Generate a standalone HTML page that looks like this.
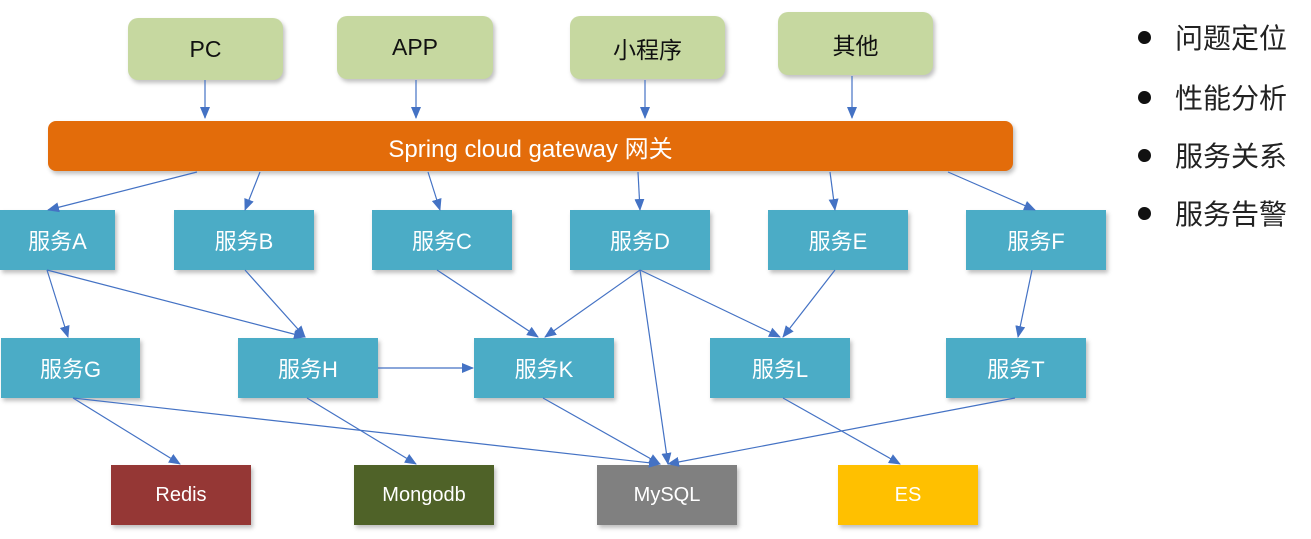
<!DOCTYPE html>
<html><head><meta charset="utf-8"><style>
body{margin:0;width:1311px;height:539px;background:#fff;position:relative;overflow:hidden;font-family:"Liberation Sans","Noto Sans CJK SC",sans-serif}
.b{position:absolute;display:flex;align-items:center;justify-content:center;box-shadow:2px 3px 4px rgba(0,0,0,.25)}
.t{background:#c6d8a0;border-radius:10px;color:#111;font-size:23px}
.s{background:#4bacc6;color:#fff;font-size:22px;height:60px;width:140px}
.d{color:#fff;font-size:20px;height:60px;width:140px}
.bl{position:absolute;left:1138px;font-size:28px;color:#222}
.bl:before{content:"";display:inline-block;width:13px;height:13px;border-radius:50%;background:#111;margin-right:24px;vertical-align:middle;position:relative;top:-3px}
svg{position:absolute;left:0;top:0}
</style></head><body>
<div class="b t" style="left:128px;top:18px;width:155px;height:62px">PC</div>
<div class="b t" style="left:337px;top:16px;width:156px;height:63px">APP</div>
<div class="b t" style="left:570px;top:16px;width:155px;height:63px">小程序</div>
<div class="b t" style="left:778px;top:12px;width:155px;height:63px">其他</div>
<div class="b" style="left:48px;top:121px;width:965px;height:50px;background:#e36c0a;border-radius:8px;color:#fff;font-size:24px">Spring cloud gateway 网关</div>
<div class="b s" style="left:0;top:210px;width:115px">服务A</div>
<div class="b s" style="left:174px;top:210px">服务B</div>
<div class="b s" style="left:372px;top:210px">服务C</div>
<div class="b s" style="left:570px;top:210px">服务D</div>
<div class="b s" style="left:768px;top:210px">服务E</div>
<div class="b s" style="left:966px;top:210px">服务F</div>
<div class="b s" style="left:1px;top:338px;width:139px">服务G</div>
<div class="b s" style="left:238px;top:338px">服务H</div>
<div class="b s" style="left:474px;top:338px">服务K</div>
<div class="b s" style="left:710px;top:338px">服务L</div>
<div class="b s" style="left:946px;top:338px">服务T</div>
<div class="b d" style="left:111px;top:465px;background:#953735">Redis</div>
<div class="b d" style="left:354px;top:465px;background:#4f6228">Mongodb</div>
<div class="b d" style="left:597px;top:465px;background:#808080">MySQL</div>
<div class="b d" style="left:838px;top:465px;background:#ffc000">ES</div>
<div class="bl" style="top:17px">问题定位</div>
<div class="bl" style="top:77px">性能分析</div>
<div class="bl" style="top:135px">服务关系</div>
<div class="bl" style="top:193px">服务告警</div>
<svg width="1311" height="539"><defs><marker id="a" markerWidth="12" markerHeight="10" refX="11" refY="5" orient="auto" markerUnits="userSpaceOnUse"><path d="M0,0L12,5L0,10z" fill="#4472c4"/></marker></defs>
<g stroke="#4472c4" stroke-width="1.2" marker-end="url(#a)">
<line x1="205" y1="80" x2="205" y2="118"/><line x1="416" y1="80" x2="416" y2="118"/><line x1="645" y1="80" x2="645" y2="118"/><line x1="852" y1="76" x2="852" y2="118"/>
<line x1="197" y1="172" x2="48" y2="210"/><line x1="260" y1="172" x2="245" y2="210"/><line x1="428" y1="172" x2="440" y2="210"/><line x1="638" y1="172" x2="640" y2="210"/><line x1="830" y1="172" x2="835" y2="210"/><line x1="948" y1="172" x2="1035" y2="210"/>
<line x1="47" y1="270" x2="68" y2="337"/><line x1="47" y1="270" x2="305" y2="337"/><line x1="245" y1="270" x2="305" y2="337"/><line x1="437" y1="270" x2="538" y2="337"/><line x1="640" y1="270" x2="545" y2="337"/><line x1="640" y1="270" x2="780" y2="337"/><line x1="835" y1="270" x2="783" y2="337"/><line x1="1032" y1="270" x2="1018" y2="337"/><line x1="640" y1="270" x2="668" y2="464"/><line x1="378" y1="368" x2="473" y2="368"/>
<line x1="73" y1="398" x2="180" y2="464"/><line x1="73" y1="398" x2="660" y2="464"/><line x1="307" y1="398" x2="416" y2="464"/><line x1="543" y1="398" x2="660" y2="464"/><line x1="783" y1="398" x2="900" y2="464"/><line x1="1015" y1="398" x2="668" y2="464"/>
</g></svg>
</body></html>
